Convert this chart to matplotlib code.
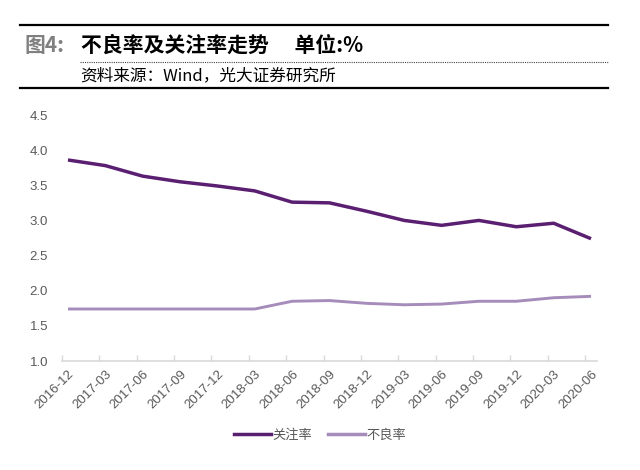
import matplotlib
matplotlib.use('Agg')
import matplotlib.pyplot as plt
from matplotlib.lines import Line2D

plt.rcParams['font.family'] = ['Liberation Sans', 'Noto Sans CJK SC', 'DejaVu Sans']

# data
quarters = ['2016-12', '2017-03', '2017-06', '2017-09', '2017-12', '2018-03',
            '2018-06', '2018-09', '2018-12', '2019-03', '2019-06', '2019-09',
            '2019-12', '2020-03', '2020-06']
special_mention = [3.86, 3.78, 3.63, 3.55, 3.49, 3.42, 3.26, 3.25, 3.13, 3.00,
                   2.93, 3.00, 2.91, 2.96, 2.74]
npl_ratio = [1.74, 1.74, 1.74, 1.74, 1.74, 1.74, 1.85, 1.86, 1.82, 1.80,
             1.81, 1.85, 1.85, 1.90, 1.92]
series_names = ['关注率', '不良率']

dark = '#5b1f72'
light = '#a58cba'
grey_txt = '#595959'

fig = plt.figure(figsize=(6.4, 4.7), dpi=100)
ax = fig.add_axes([62 / 640, 1 - 361 / 470, 535 / 640, 246 / 470])

x = list(range(len(quarters)))
ax.plot(x, special_mention, color=dark, lw=2.5, solid_capstyle='butt')
ax.plot(x, npl_ratio, color=light, lw=2.1, solid_capstyle='butt')

ax.set_yticks([1.0, 1.5, 2.0, 2.5, 3.0, 3.5, 4.0, 4.5])
ax.yaxis.set_major_formatter(matplotlib.ticker.FormatStrFormatter('%.1f'))
ax.set_xticks(x)
ax.set_xticklabels(quarters, rotation=45, ha='right', rotation_mode='anchor')
# small marks between categories, pointing up from the axis line
ax.set_xticks([k - 0.16 for k in range(len(quarters))], minor=True)
ax.set_ylim(1.0, 4.5)
ax.set_xlim(-0.16, len(quarters) - 1 + 0.16)

for s in ['left', 'right', 'top']:
    ax.spines[s].set_visible(False)
ax.spines['bottom'].set_color('#d9d9d9')
ax.spines['bottom'].set_linewidth(1.2)
ax.tick_params(axis='y', length=0, pad=10, labelsize=9.5, labelcolor=grey_txt)
ax.tick_params(axis='x', which='major', length=0, pad=5, labelsize=9.5,
               labelcolor=grey_txt)
ax.tick_params(axis='x', which='minor', direction='in', length=4,
               color='#d9d9d9', width=1)

handles = [Line2D([], [], color=dark, lw=2.5), Line2D([], [], color=light, lw=2.5)]
fig.legend(handles, series_names, loc='center', bbox_to_anchor=(0.5, 1 - 435 / 470),
           ncol=2, frameon=False, fontsize=9.5, handlelength=2.8, handletextpad=0.1,
           columnspacing=1.2, labelcolor=grey_txt)

# header block
fig.add_artist(Line2D([20 / 640, 608 / 640], [1 - 25 / 470] * 2, color='black', lw=1.6))
fig.add_artist(Line2D([80 / 640, 608 / 640], [1 - 62 / 470] * 2, color='#444444',
                      lw=0.8, ls=(0, (1, 1))))
fig.add_artist(Line2D([20 / 640, 608 / 640], [1 - 88 / 470] * 2, color='black', lw=1.6))
fig.text(24 / 640, 1 - 45 / 470, '图4:', fontsize=15, fontweight='bold',
         color='#808080', va='center', family=['Noto Sans CJK SC'])
fig.text(81 / 640, 1 - 45 / 470, '不良率及关注率走势　 单位:%', fontsize=15,
         fontweight='bold', color='black', va='center', family=['Noto Sans CJK SC'])
fig.text(80 / 640, 1 - 76 / 470, '资料来源：Wind，光大证券研究所', fontsize=12,
         color='black', va='center', family=['Noto Sans CJK SC'])

fig.savefig('out.png', dpi=100)
